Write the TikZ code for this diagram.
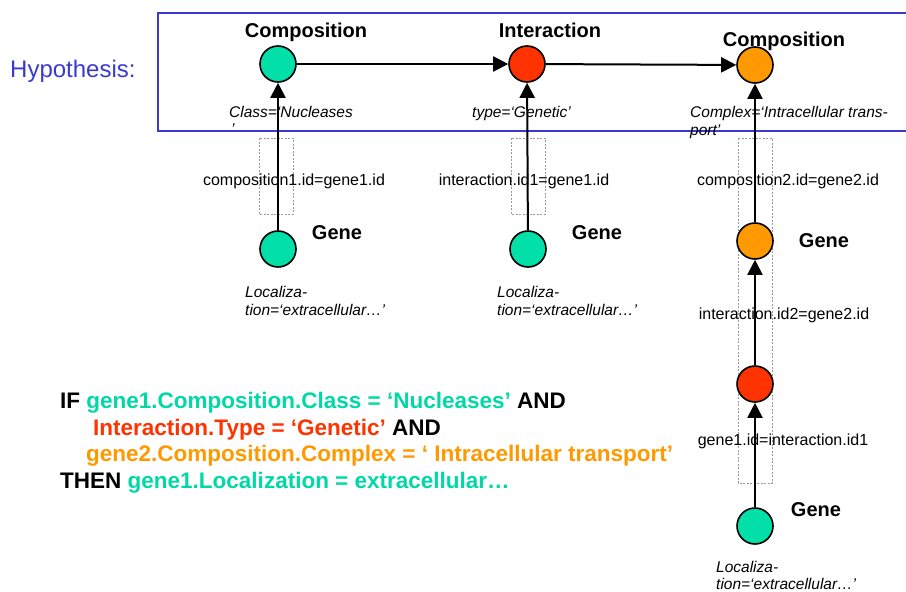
\documentclass[tikz,border=0pt]{standalone}
\usepackage{fontspec}
\setmainfont{Liberation Sans}
\usetikzlibrary{arrows.meta}
\definecolor{cgreen}{HTML}{00E0A8}
\definecolor{cred}{HTML}{FF3300}
\definecolor{corange}{HTML}{FF9900}
\definecolor{cblue}{HTML}{3A3AD0}
\definecolor{tgreen}{HTML}{00D9A6}
\tikzset{
  ent/.style={circle, draw=black, line width=1.6pt, minimum size=36pt, inner sep=0pt},
  conn/.style={line width=2pt, -{Triangle[length=15pt,width=15pt]}},
  dbox/.style={draw=gray!80, dashed, line width=0.7pt, dash pattern=on 2pt off 1.5pt},
  ttl/.style={font=\fontsize{20}{24}\selectfont\bfseries, anchor=base, inner sep=0pt},
  cond/.style={font=\fontsize{15.5}{18}\selectfont\itshape, anchor=base west, inner sep=0pt},
  jn/.style={font=\fontsize{16}{19}\selectfont, anchor=base, inner sep=0pt},
  rule/.style={font=\fontsize{22.5}{26}\selectfont\bfseries, anchor=base west, inner sep=0pt},
}
\begin{document}
\begin{tikzpicture}[x=1pt,y=-1pt]
\useasboundingbox (0,0) rectangle (906,592);
% hypothesis frame (open on the right, runs off the page)
\draw[cblue, line width=2pt] (910,13) -- (158,13) -- (158,131) -- (910,131);
\node[anchor=base west, inner sep=0pt, text=cblue, font=\fontsize{24}{28}\selectfont] (hyp) at (10,77) {Hypothesis:};
% dashed join boxes
\draw[dbox] (259,138) rectangle (293,214);
\draw[dbox] (511,138) rectangle (545,214);
\draw[dbox] (738,138) rectangle (772,483);
% entities
\node[ent, fill=cgreen] (c1) at (278,64) {};
\node[ent, fill=cred] (i1) at (527,64) {};
\node[ent, fill=corange] (c2) at (755,65) {};
\node[ent, fill=cgreen] (g1) at (278,249) {};
\node[ent, fill=cgreen] (g2) at (528,249) {};
\node[ent, fill=corange] (g3) at (755,241) {};
\node[ent, fill=cred] (r2) at (755,384) {};
\node[ent, fill=cgreen] (g4) at (755,526) {};
% connectors
\draw[conn] (c1) -- (i1);
\draw[conn] (i1) -- (c2);
\draw[conn] (g1) -- (c1);
\draw[conn] (g2) -- (i1);
\draw[conn] (g3) -- (c2);
\draw[conn] (r2) -- (g3);
\draw[conn] (g4) -- (r2);
% titles
\node[ttl] (t1) at (306,37) {Composition};
\node[ttl] (t2) at (550,37) {Interaction};
\node[ttl] (t3) at (784,46) {Composition};
\node[ttl] (t4) at (337,239) {Gene};
\node[ttl] (t5) at (597,239) {Gene};
\node[ttl] (t6) at (824,247) {Gene};
\node[ttl] (t7) at (816,516) {Gene};
% conditions
\node[cond] (k1) at (229,117) {Class=‘Nucleases};
\node[cond] (k1b) at (231,134) {’};
\node[cond] (k2) at (472,117) {type=‘Genetic’};
\node[cond] (k3) at (690,117) {Complex=‘Intracellular trans-};
\node[cond] (k3b) at (690,135) {port’};
\node[cond] (l1) at (245,297) {Localiza-};
\node[cond] (l1b) at (245,315) {tion=‘extracellular…’};
\node[cond] (l2) at (497,297) {Localiza-};
\node[cond] (l2b) at (497,315) {tion=‘extracellular…’};
\node[cond] (l3) at (716,572) {Localiza-};
\node[cond] (l3b) at (716,589) {tion=‘extracellular…’};
% join labels
\node[jn] (j1) at (294,185) {composition1.id=gene1.id};
\node[jn] (j2) at (524,185) {interaction.id1=gene1.id};
\node[jn] (j3) at (788,185) {composition2.id=gene2.id};
\node[jn] (j4) at (784,319) {interaction.id2=gene2.id};
\node[jn] (j5) at (783,445) {gene1.id=interaction.id1};
% rule
\node[rule] (r1) at (60,408) {IF \textcolor{tgreen}{gene1.Composition.Class = ‘Nucleases’} AND};
\node[rule] (r2t) at (93,435) {\textcolor{cred}{Interaction.Type = ‘Genetic’} AND};
\node[rule] (r3t) at (86,461) {\textcolor{corange}{gene2.Composition.Complex = ‘ Intracellular transport’}};
\node[rule] (r4t) at (60,488) {THEN \textcolor{tgreen}{gene1.Localization = extracellular…}};
\end{tikzpicture}
\end{document}
